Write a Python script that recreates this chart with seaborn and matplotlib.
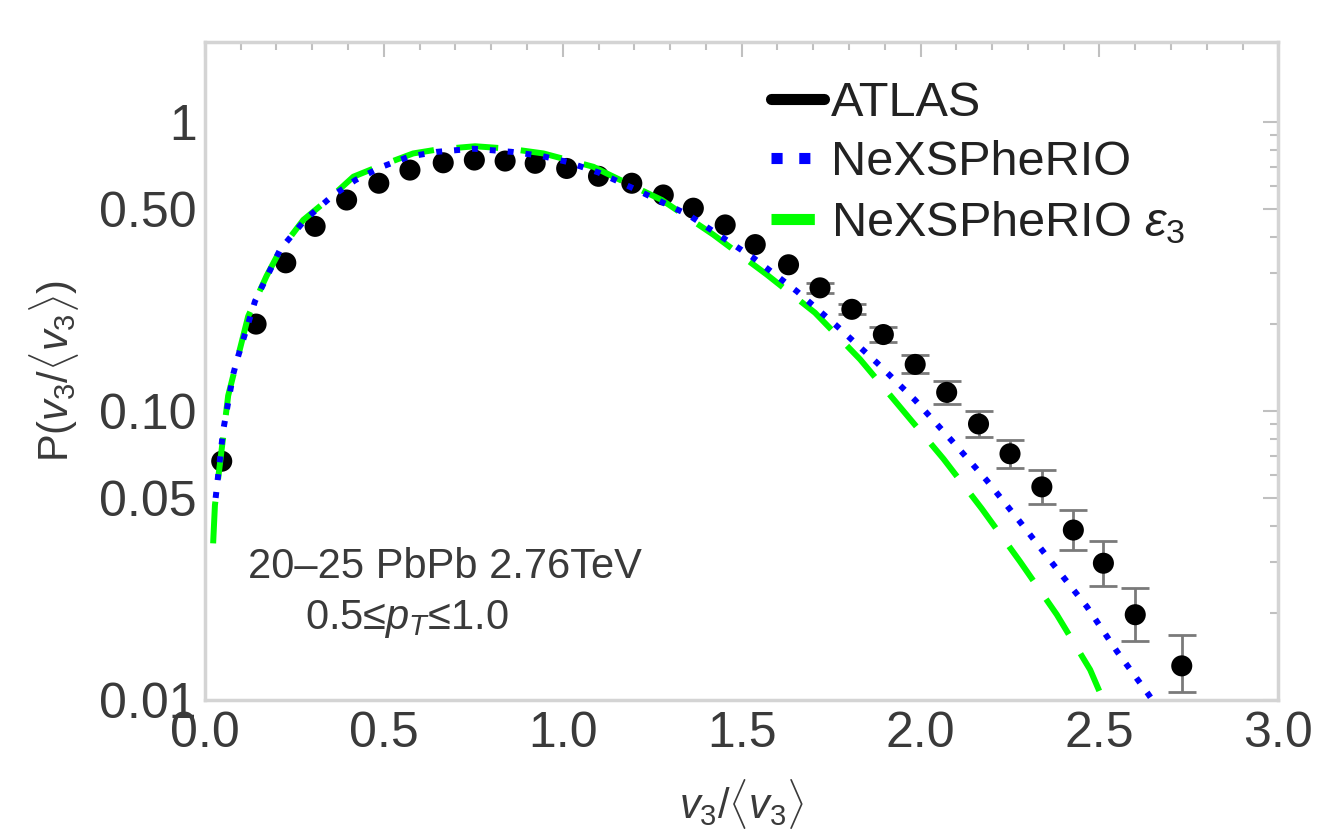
import numpy as np
import pandas as pd
import matplotlib
matplotlib.use("Agg")
import matplotlib.pyplot as plt
from matplotlib.lines import Line2D
from matplotlib.ticker import MultipleLocator, LogLocator, NullFormatter
import seaborn as sns

# ATLAS points (x, y, lower / upper error)
atlas_x = [0.047, 0.143, 0.226, 0.308, 0.396, 0.486, 0.573, 0.666, 0.753, 0.839,
           0.923, 1.011, 1.100, 1.193, 1.281, 1.365, 1.454, 1.538, 1.631, 1.719,
           1.808, 1.896, 1.985, 2.073, 2.162, 2.250, 2.339, 2.427, 2.511, 2.600, 2.730]
atlas_y = [0.067, 0.200, 0.326, 0.436, 0.538, 0.615, 0.683, 0.724, 0.740, 0.734,
           0.721, 0.692, 0.650, 0.615, 0.560, 0.504, 0.441, 0.377, 0.321, 0.267,
           0.225, 0.184, 0.145, 0.116, 0.0902, 0.0711, 0.0546, 0.0387, 0.0297, 0.0197, 0.0131]
atlas_err_lo = [0, 0, 0, 0, 0, 0, 0, 0, 0, 0,
                0, 0, 0, 0, 0, 0, 0, 0, 0, 0.010,
                0.009, 0.010, 0.010, 0.0102, 0.0090, 0.0076, 0.0069, 0.0057, 0.0049, 0.0037, 0.0025]
atlas_err_hi = [0, 0, 0, 0, 0, 0, 0, 0, 0, 0,
                0, 0, 0, 0, 0, 0, 0, 0, 0, 0.011,
                0.010, 0.011, 0.011, 0.0111, 0.0101, 0.0085, 0.0080, 0.0067, 0.0059, 0.0046, 0.0037]

# NeXSPheRIO (blue dotted)
nexs_x = [0.030, 0.051, 0.079, 0.093, 0.140, 0.210, 0.280, 0.354, 0.420, 0.494,
          0.570, 0.648, 0.750, 0.857, 0.940, 1.011, 1.100, 1.207, 1.351, 1.477,
          1.533, 1.654, 1.766, 1.878, 1.985, 2.087, 2.185, 2.278, 2.372, 2.465,
          2.549, 2.633, 2.660]
nexs_y = [0.050, 0.0855, 0.134, 0.155, 0.240, 0.362, 0.460, 0.553, 0.630, 0.701,
          0.760, 0.790, 0.810, 0.790, 0.765, 0.730, 0.670, 0.583, 0.478, 0.377,
          0.339, 0.260, 0.197, 0.147, 0.109, 0.079, 0.0575, 0.0413, 0.0293, 0.0210,
          0.0147, 0.0106, 0.0095]

# NeXSPheRIO eps3 (green dashed)
eps3_x = [0.023, 0.028, 0.065, 0.121, 0.172, 0.210, 0.275, 0.354, 0.415, 0.494,
          0.582, 0.650, 0.755, 0.850, 0.946, 1.086, 1.123, 1.277, 1.421, 1.570,
          1.705, 1.831, 1.924, 2.064, 2.171, 2.278, 2.381, 2.474, 2.510]
eps3_y = [0.0348, 0.0472, 0.113, 0.213, 0.293, 0.360, 0.459, 0.553, 0.648, 0.710,
          0.780, 0.805, 0.826, 0.810, 0.780, 0.701, 0.665, 0.538, 0.408, 0.297,
          0.219, 0.151, 0.110, 0.0683, 0.0459, 0.0301, 0.0197, 0.0127, 0.0100]

x_ticks = [0.0, 0.5, 1.0, 1.5, 2.0, 2.5, 3.0]
x_ticklabels = ["0.0", "0.5", "1.0", "1.5", "2.0", "2.5", "3.0"]
y_ticks = [0.01, 0.05, 0.1, 0.5, 1]
y_ticklabels = ["0.01", "0.05", "0.10", "0.50", "1"]

atlas = pd.DataFrame({"x": atlas_x, "y": atlas_y, "lo": atlas_err_lo, "hi": atlas_err_hi})

sns.set_theme(style="white")
plt.rcParams["font.family"] = ["Liberation Sans", "DejaVu Sans"]
plt.rcParams["mathtext.fontset"] = "custom"
plt.rcParams["mathtext.rm"] = "Liberation Sans"
plt.rcParams["mathtext.it"] = "Liberation Sans:italic"
plt.rcParams["mathtext.bf"] = "Liberation Sans:bold"

fig = plt.figure(figsize=(13.22, 8.36), dpi=100)
ax = fig.add_axes([0.155, 0.163, 0.812, 0.787])

# error bars only where they stick out of the markers
eb = atlas[atlas["hi"] > 0]
ax.errorbar(eb["x"], eb["y"], yerr=[eb["lo"], eb["hi"]], fmt="none",
            ecolor="#7a7a7a", elinewidth=2, capsize=10, capthick=2, zorder=2)
sns.scatterplot(data=atlas, x="x", y="y", ax=ax, color="black", s=230,
                edgecolor="none", zorder=3, legend=False)

sns.lineplot(x=eps3_x, y=eps3_y, ax=ax, color="#00ff00", lw=4.3,
             linestyle=(0, (7, 3.8)), estimator=None, sort=False, zorder=4)
sns.lineplot(x=nexs_x, y=nexs_y, ax=ax, color="#0000ff", lw=4.3,
             linestyle=(0, (1, 2)), estimator=None, sort=False, zorder=5)

ax.set_yscale("log")
ax.set_xlim(0, 3)
ax.set_ylim(0.01, 1.9)
ax.set_xticks(x_ticks, labels=x_ticklabels)
ax.xaxis.set_minor_locator(MultipleLocator(0.1))
ax.set_yticks(y_ticks, labels=y_ticklabels)
ax.yaxis.set_minor_locator(LogLocator(base=10, subs=np.arange(2, 10) * 1.0))
ax.yaxis.set_minor_formatter(NullFormatter())
ax.tick_params(which="both", direction="in", top=True, right=True,
               color="#c0c0c0", width=1.5, labelsize=36, labelcolor="#3a3a3a")
ax.tick_params(which="major", length=11)
ax.tick_params(which="minor", length=6)
ax.tick_params(axis="x", pad=8)
ax.tick_params(axis="y", pad=6)
for s in ax.spines.values():
    s.set_color("#d4d4d4")
    s.set_linewidth(2.5)

ax.set_xlabel(r"$v_3/\langle v_3\rangle$", fontsize=30, color="#3a3a3a")
ax.xaxis.set_label_coords(0.5, -0.118)
ax.set_ylabel(r"P($v_3/\langle v_3\rangle$)", fontsize=30, color="#3a3a3a")
ax.yaxis.set_label_coords(-0.115, 0.5)

ax.text(0.04, 0.202, "20–25 PbPb 2.76TeV", transform=ax.transAxes,
        ha="left", va="center", fontsize=30, color="#3a3a3a")
ax.text(0.188, 0.122, r"0.5≤$p_T$≤1.0", transform=ax.transAxes,
        ha="center", va="center", fontsize=30, color="#3a3a3a")

handles = [
    Line2D([], [], color="black", lw=8),
    Line2D([], [], color="#0000ff", lw=8, linestyle=(0, (1, 1.5))),
    Line2D([], [], color="#00ff00", lw=8, linestyle=(0, (3.9, 2))),
]
labels = ["ATLAS", "NeXSPheRIO", r"NeXSPheRIO $\epsilon_3$"]
ax.legend(handles, labels, loc="upper left", bbox_to_anchor=(0.527, 0.94),
          frameon=False, fontsize=35, handlelength=1.1, handletextpad=0.15,
          labelspacing=0.29, borderpad=0, borderaxespad=0, labelcolor="#222222")

plt.savefig("out.png", dpi=100)
